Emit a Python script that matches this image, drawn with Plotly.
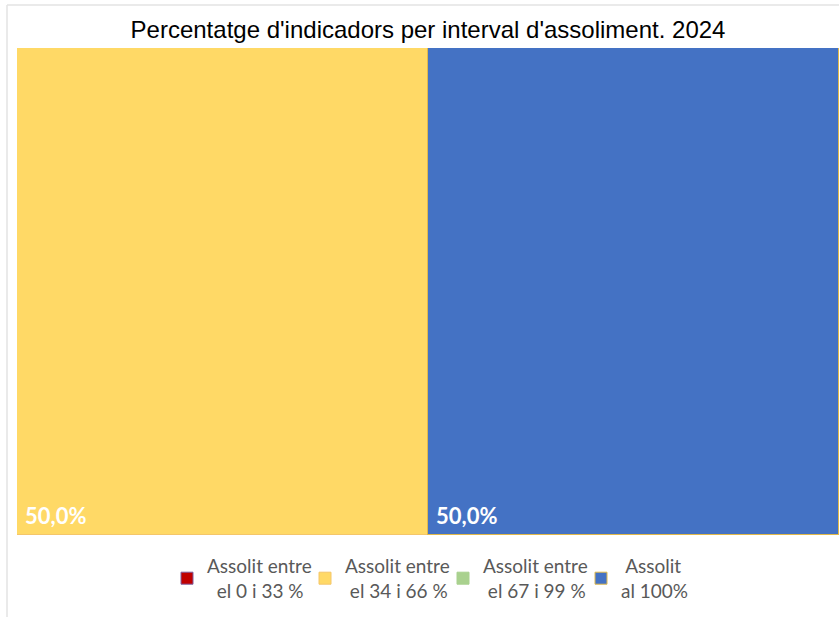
import plotly.graph_objects as go

categories = ["Assolit entre el 0 i 33 %", "Assolit entre el 34 i 66 %",
              "Assolit entre el 67 i 99 %", "Assolit al 100%"]
legend_names = ["Assolit entre<br>\u00a0\u00a0el 0 i 33 %", "Assolit entre<br>\u00a0el 34 i 66 %",
                "Assolit entre<br>\u00a0el 67 i 99 %", "\u00a0Assolit<br>al 100%"]
values = [0.0, 50.0, 0.0, 50.0]
labels = ["0,0%", "50,0%", "0,0%", "50,0%"]
colors = ["#C00000", "#FFD966", "#A9D18E", "#4472C4"]
line_colors = ["#7F5FA0", "#F4C66A", "#A9D18E", "#E0B84A"]
title = "Percentatge d'indicadors per interval d'assoliment. 2024"

fig = go.Figure()
for name, v, c, lc in zip(legend_names, values, colors, line_colors):
    fig.add_trace(go.Bar(
        y=[""], x=[v], orientation="h", name=name,
        marker=dict(color=c, line=dict(color=lc, width=1)),
        hoverinfo="skip",
    ))

annotations = []
start = 0.0
for v, lab in zip(values, labels):
    if v > 0:
        annotations.append(dict(
            x=start, y=-0.5, xref="x", yref="y", text="<b>" + lab + "</b>",
            showarrow=False, xanchor="left", yanchor="bottom",
            xshift=6, yshift=4,
            font=dict(family="Lato, Open Sans, sans-serif", size=22, color="white"),
        ))
    start += v

W, H = 839, 617
L, T, B = 17, 48, 82
PH = H - T - B
PW = W - L
fig.update_layout(
    width=W, height=H,
    barmode="stack", bargap=0,
    paper_bgcolor="white", plot_bgcolor="white",
    margin=dict(l=L, r=0, t=T, b=B),
    title=dict(text=title, x=0.5, xanchor="center", xref="paper",
               y=1 - 30 / H, yref="container", yanchor="middle",
               font=dict(family="Liberation Sans, Arial, sans-serif", size=24, color="black")),
    xaxis=dict(range=[0, 100], visible=False, fixedrange=True),
    yaxis=dict(range=[-0.5, 0.5], visible=False, fixedrange=True),
    showlegend=True,
    legend=dict(orientation="h", x=(167 - L) / PW, xanchor="left", y=-12 / PH, yanchor="top",
                traceorder="normal", entrywidth=93, entrywidthmode="pixels",
                font=dict(family="Lato, Open Sans, sans-serif", size=19, color="#595959"),
                itemclick=False, itemdoubleclick=False),
    annotations=annotations,
    shapes=[
        dict(type="line", xref="paper", yref="paper", x0=(7 - L) / PW, x1=(7 - L) / PW,
             y0=-0.3, y1=1 + (T - 5) / PH, line=dict(color="#E3E3E3", width=1.5)),
        dict(type="line", xref="paper", yref="paper", x0=(7 - L) / PW, x1=1.01,
             y0=1 + (T - 5) / PH, y1=1 + (T - 5) / PH, line=dict(color="#E3E3E3", width=1.5)),
    ],
)

fig.write_html("out.html", config={"displayModeBar": False},
               post_script="document.body.style.margin='0px';document.body.style.overflow='hidden';")
